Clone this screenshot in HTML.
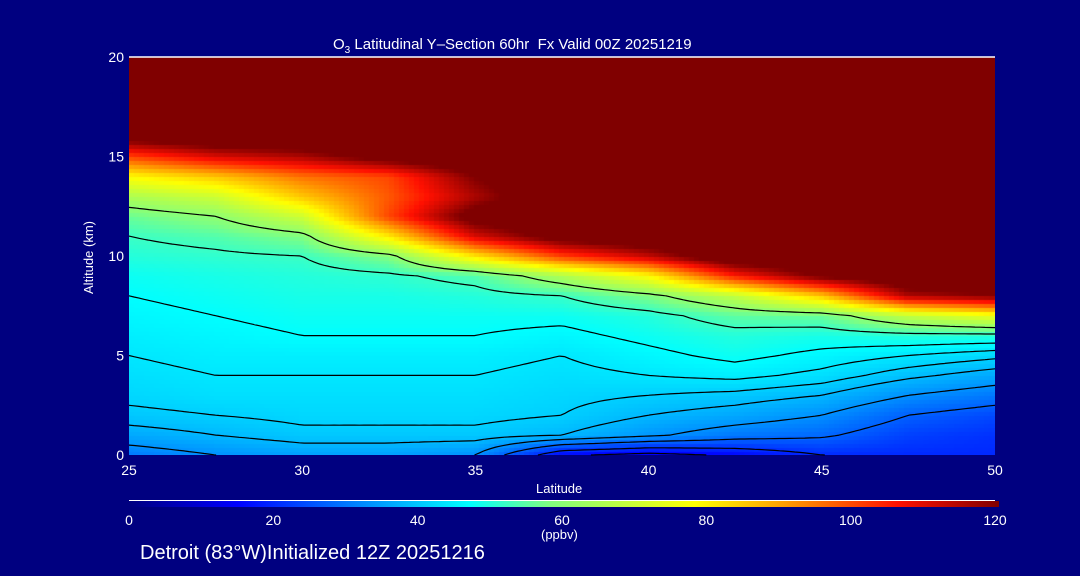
<!DOCTYPE html>
<html><head><meta charset="utf-8">
<style>
html,body{margin:0;padding:0;background:#000080;width:1080px;height:576px;overflow:hidden}
#root{position:relative;width:1080px;height:576px;font-family:"Liberation Sans",sans-serif;color:#fff}
.t{position:absolute;font-size:14px;white-space:nowrap}
</style></head>
<body>
<div id="root">
<div class="t" style="left:333px;top:36px;font-size:15px">O<sub style="font-size:10px">3</sub> Latitudinal Y–Section 60hr &nbsp;Fx Valid 00Z 20251219</div>
<canvas id="heat" width="866" height="398" style="position:absolute;left:129px;top:57px"></canvas>
<svg id="ov" width="1080" height="576" style="position:absolute;left:0;top:0"></svg>
<div class="t" style="left:536px;top:481px;font-size:13px">Latitude</div>
<div class="t" style="left:52px;top:250px;font-size:13px;transform:rotate(-90deg);transform-origin:center">Altitude (km)</div>
<div class="t" style="left:541px;top:527px;font-size:13px">(ppbv)</div>
<div class="t" style="left:140px;top:542px;font-size:20px">Detroit (83°W)Initialized 12Z 20251216</div>
</div>
<script>
const lats=[25,27.5,30,32.5,35,37.5,40,42.5,45,47.5,50];
const alts=[0,1,2,3,4,5,6,7,8,9,10,11,12,13,14,15,16,17,18,19,20];
const colLat25=[30,36,40,42,43,44,45,46,47,48,50,52,56,65,78,100,125,130,130,130,130];
const colLat275=[33,38,41,43,44,45,46,47,48,49,51,54,60,70,85,110,130,130,130,130,130];
const colLat30=[35,40,42,43,44,45,47,48,49,50,52,58,70,85,95,115,130,130,130,130,130];
const colLat325=[35,40,42,43,44,45,47,48,49,51,58,80,100,98,100,125,130,130,130,130,130];
const colLat35=[33,40,42,43,44,45,47,48,50,54,80,110,125,115,120,130,130,130,130,130,130];
const colLat375=[15,38,41,42,43,44,46,48,52,65,100,125,130,130,130,130,130,130,130,130,130];
const colLat40=[12,34,38,41,44,46,48,50,58,78,112,130,130,130,130,130,130,130,130,130,130];
const colLat425=[15,30,36,40,45,48,50,55,68,105,130,130,130,130,130,130,130,130,130,130,130];
const colLat45=[20,28,33,38,43,46,49,56,85,122,130,130,130,130,130,130,130,130,130,130,130];
const colLat475=[20,23,27,33,39,44,50,68,115,130,130,130,130,130,130,130,130,130,130,130,130];
const colLat50=[20,21,24,30,36,42,50,75,120,130,130,130,130,130,130,130,130,130,130,130,130];
const columns=[colLat25,colLat275,colLat30,colLat325,colLat35,colLat375,colLat40,colLat425,colLat45,colLat475,colLat50];
const contourLevels=[14,20,27,33,38,41,44,47,52,60];
const xTicks=[25,30,35,40,45,50];
const yTicks=[0,5,10,15,20];
const cbTicks=[0,20,40,60,80,100,120];

const X0=129,X1=995,Y0=455,Y1=57;
const xs=v=>X0+(v-25)/25*(X1-X0);
const ys=v=>Y0-(v/20)*(Y0-Y1);
const stops=[[0,[0,0,127]],[15,[0,0,255]],[47,[0,255,255]],[58,[128,255,128]],[78,[255,255,0]],[90,[255,160,0]],[106,[255,16,0]],[120,[128,0,0]]];
function cmap(v){v=Math.max(0,Math.min(120,v));for(let i=1;i<stops.length;i++){if(v<=stops[i][0]){const a=stops[i-1],b=stops[i],t=(v-a[0])/(b[0]-a[0]);return 'rgb('+a[1].map((c,k)=>Math.round(c+(b[1][k]-c)*t)).join(',')+')';}}return 'rgb(128,0,0)';}
function val(lat,alt){
  let fi=(lat-25)/2.5, fj=alt;
  fi=Math.max(0,Math.min(lats.length-1.0001,fi));fj=Math.max(0,Math.min(alts.length-1.0001,fj));
  const i=Math.floor(fi),j=Math.floor(fj),u=fi-i,w=fj-j;
  const a=columns[i][j],b=columns[i+1][j],c=columns[i][j+1],d=columns[i+1][j+1];
  return a*(1-u)*(1-w)+b*u*(1-w)+c*(1-u)*w+d*u*w;
}
const cv=document.getElementById('heat'),ctx=cv.getContext('2d');
const NX=173,NY=100;const grid=[];
for(let j=0;j<=NY;j++){grid.push([]);for(let i=0;i<=NX;i++)grid[j].push(val(25+25*i/NX,20*j/NY));}
for(let j=0;j<NY;j++)for(let i=0;i<NX;i++){
  const v=val(25+25*(i+0.5)/NX,20*(j+0.5)/NY);
  ctx.fillStyle=cmap(v);
  const x=xs(25+25*i/NX)-X0, x2=xs(25+25*(i+1)/NX)-X0, y=ys(20*(j+1)/NY)-Y1, y2=ys(20*j/NY)-Y1;
  ctx.fillRect(Math.floor(x),Math.floor(y),Math.ceil(x2-x)+1,Math.ceil(y2-y)+1);
}
const NS='http://www.w3.org/2000/svg',ov=document.getElementById('ov');
function mk(tag,attrs){const e=document.createElementNS(NS,tag);for(const k in attrs)e.setAttribute(k,attrs[k]);ov.appendChild(e);return e;}
contourLevels.forEach(L=>{
  let d='';
  const P=(i,j)=>[xs(25+25*i/NX),ys(20*j/NY)];
  for(let j=0;j<NY;j++)for(let i=0;i<NX;i++){
    const c=[[i,j],[i+1,j],[i+1,j+1],[i,j+1]];const pts=[];
    for(let k=0;k<4;k++){const a=c[k],b=c[(k+1)%4];const va=grid[a[1]][a[0]],vb=grid[b[1]][b[0]];
      if((va<L)!==(vb<L)){const t=(L-va)/(vb-va);const pa=P(a[0],a[1]),pb=P(b[0],b[1]);pts.push([pa[0]+(pb[0]-pa[0])*t,pa[1]+(pb[1]-pa[1])*t]);}}
    for(let k=0;k+1<pts.length;k+=2)d+='M'+pts[k][0].toFixed(1)+' '+pts[k][1].toFixed(1)+'L'+pts[k+1][0].toFixed(1)+' '+pts[k+1][1].toFixed(1);
  }
  const p=mk('path',{d:d,stroke:'#000',fill:'none','stroke-width':1.2});
  
  
});
const ax=mk('path',{d:`M${X0} ${Y1}H${X1}`,stroke:'#fff','stroke-width':1.5,fill:'none'});


xTicks.forEach(v=>{
  const t=mk('text',{x:xs(v),y:475,fill:'#fff','font-size':14,'text-anchor':'middle','font-family':'Liberation Sans'});t.textContent=v;
  
  
});
yTicks.forEach(v=>{
  const t=mk('text',{x:124,y:ys(v)+5,fill:'#fff','font-size':14,'text-anchor':'end','font-family':'Liberation Sans'});t.textContent=v;
  
  
});
const gr=mk('defs',{});const lg=document.createElementNS(NS,'linearGradient');lg.setAttribute('id','cb');gr.appendChild(lg);
stops.forEach(s=>{const st=document.createElementNS(NS,'stop');st.setAttribute('offset',(s[0]/120*100)+'%');st.setAttribute('stop-color',cmap(s[0]));lg.appendChild(st);});
const cb=mk('rect',{x:129,y:501,width:870,height:6,fill:'url(#cb)'});


const cbl=mk('path',{d:'M129 500.5H995',stroke:'#fff','stroke-width':1});


cbTicks.forEach(v=>{
  const t=mk('text',{x:129+v/120*866,y:525,fill:'#fff','font-size':14,'text-anchor':'middle','font-family':'Liberation Sans'});t.textContent=v;
  
  
});
</script>
</body></html>
